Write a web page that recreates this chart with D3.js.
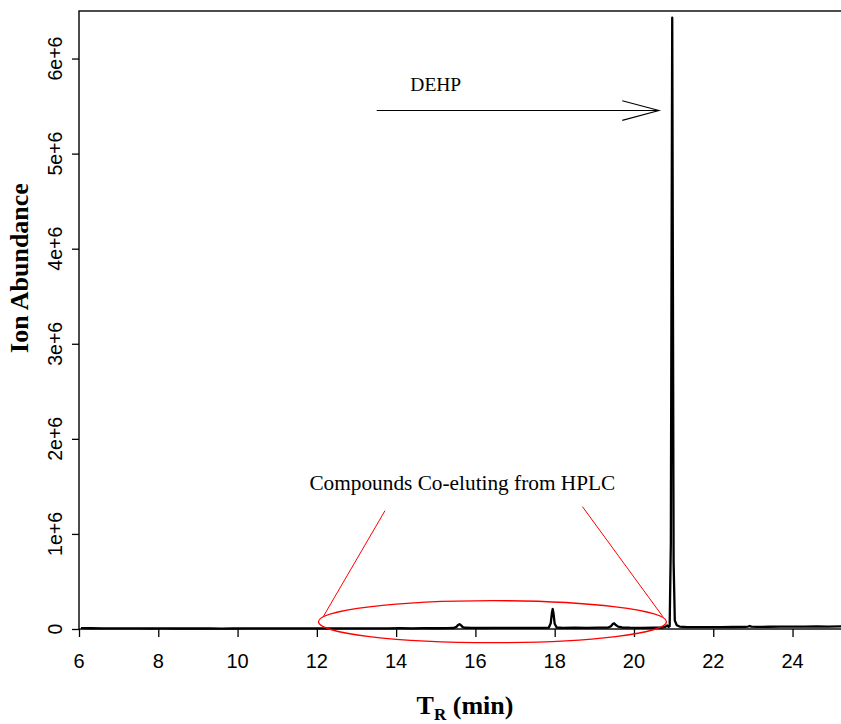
<!DOCTYPE html>
<html>
<head>
<meta charset="utf-8">
<script src="https://cdn.jsdelivr.net/npm/d3@7"></script>
<style>
  body { margin: 0; background: #ffffff; }
  svg { display: block; }
</style>
</head>
<body>
<svg id="chart" width="841" height="724"></svg>
<script>
// Retention time (min) of each scan point
const rtMin = [
  6.05, 6.3, 6.6, 6.9, 7.2, 7.5, 7.8, 8.1, 8.4, 8.7,
  9.0, 9.3, 9.6, 9.9, 10.2, 10.5, 10.8, 11.1, 11.4, 11.7,
  12.0, 12.3, 12.6, 12.9, 13.2, 13.5, 13.8, 14.1, 14.4, 14.7,
  15.0, 15.3, 15.45, 15.52, 15.56, 15.6, 15.64, 15.68, 15.75, 15.9,
  16.2, 16.5, 16.8, 17.1, 17.4, 17.7, 17.85, 17.9, 17.93, 17.95,
  17.97, 18.0, 18.05, 18.2, 18.5, 18.8, 19.1, 19.35, 19.42, 19.47,
  19.5, 19.54, 19.6, 19.7, 19.9, 20.2, 20.5, 20.7, 20.8, 20.84,
  20.87, 20.9, 20.93, 20.95, 20.965, 20.98, 21.0, 21.03, 21.08, 21.15,
  21.3, 21.6, 21.9, 22.2, 22.5, 22.8, 22.88, 22.92, 22.96, 23.1,
  23.4, 23.7, 24.0, 24.3, 24.6, 24.9, 25.2, 25.5
];

// Total ion abundance at each retention time
const abundance = [
  9000, 8000, 7500, 6500, 6000, 5800, 5500, 5600, 5300, 5200,
  5400, 5100, 5000, 5300, 6200, 5600, 6400, 5900, 6800, 6100,
  6500, 7000, 6600, 7200, 6900, 7600, 7100, 8200, 7500, 8600,
  8100, 9200, 10500, 22000, 42000, 50000, 38000, 20000, 13000, 11000,
  10500, 11800, 10900, 12200, 11400, 12800, 14000, 60000, 170000, 210000,
  165000, 55000, 16000, 12500, 13400, 12300, 13800, 15000, 30000, 55000,
  60000, 42000, 25000, 16000, 13500, 12600, 13200, 15000, 25000, 38000,
  22000, 30000, 900000, 4200000, 6430000, 4000000, 700000, 90000, 40000, 26000,
  21000, 19500, 20500, 19800, 21000, 22500, 26000, 32000, 25000, 22500,
  23500, 24800, 24000, 25500, 26500, 26000, 27500, 28000
];

const xTickValues = [6, 8, 10, 12, 14, 16, 18, 20, 22, 24];
const xTickLabels = ["6", "8", "10", "12", "14", "16", "18", "20", "22", "24"];
const yTickValues = [0, 1e6, 2e6, 3e6, 4e6, 5e6, 6e6];
const yTickLabels = ["0", "1e+6", "2e+6", "3e+6", "4e+6", "5e+6", "6e+6"];

// Plot region (the right edge runs past the window)
const plot = { left: 79, top: 11, right: 852, bottom: 629 };

const x = d3.scaleLinear().domain([6, 25.5]).range([plot.left, plot.right]);
const y = d3.scaleLinear().domain([0, 6.5e6]).range([plot.bottom, plot.top]);

const svg = d3.select("#chart");
const sans = "'Liberation Sans', Arial, sans-serif";
const serif = "'Liberation Serif', 'Times New Roman', serif";

svg.append("rect").attr("width", 841).attr("height", 724).attr("fill", "#ffffff");

svg.append("defs").append("clipPath").attr("id", "plotClip")
  .append("rect")
  .attr("x", plot.left).attr("y", plot.top - 2)
  .attr("width", plot.right - plot.left).attr("height", plot.bottom - plot.top + 4);

// Chromatogram trace
const points = rtMin.map((t, i) => [t, abundance[i]]);
const line = d3.line().x(d => x(d[0])).y(d => y(d[1]));
svg.append("path")
  .datum(points)
  .attr("clip-path", "url(#plotClip)")
  .attr("fill", "none")
  .attr("stroke", "#000")
  .attr("stroke-width", 2.3)
  .attr("stroke-linejoin", "round")
  .attr("d", line);

// Frame around plot region
svg.append("rect")
  .attr("x", plot.left).attr("y", plot.top)
  .attr("width", plot.right - plot.left).attr("height", plot.bottom - plot.top)
  .attr("fill", "none").attr("stroke", "#000").attr("stroke-width", 1.4);

// X axis: tick marks from d3.axisBottom, labels placed below them
const xAxis = d3.axisBottom(x).tickValues(xTickValues).tickSize(8).tickFormat("");
const gx = svg.append("g").attr("transform", `translate(0,${plot.bottom})`).call(xAxis);
gx.select(".domain").remove();
gx.selectAll(".tick line").attr("stroke", "#000").attr("stroke-width", 1.3);
gx.selectAll(".tick text").remove();

svg.append("g").selectAll("text").data(xTickValues).join("text")
  .attr("x", d => x(d))
  .attr("y", plot.bottom + 39)
  .attr("text-anchor", "middle")
  .attr("font-family", sans).attr("font-size", 20).attr("fill", "#000")
  .text((d, i) => xTickLabels[i]);

// Y axis (labels rotated, reading bottom to top)
const yAxis = d3.axisLeft(y).tickValues(yTickValues).tickSize(7).tickFormat("");
const gy = svg.append("g").attr("transform", `translate(${plot.left},0)`).call(yAxis);
gy.select(".domain").remove();
gy.selectAll(".tick line").attr("stroke", "#000").attr("stroke-width", 1.3);
gy.selectAll(".tick text").remove();

svg.append("g").selectAll("text").data(yTickValues).join("text")
  .attr("transform", d => `translate(${plot.left - 17},${y(d)}) rotate(-90)`)
  .attr("text-anchor", "middle")
  .attr("font-family", sans).attr("font-size", 19.5).attr("fill", "#000")
  .text((d, i) => yTickLabels[i]);

// Axis titles
svg.append("text")
  .attr("transform", `translate(28,${(plot.top + plot.bottom) / 2 - 52}) rotate(-90)`)
  .attr("text-anchor", "middle")
  .attr("font-family", serif).attr("font-weight", "bold").attr("font-size", 26)
  .text("Ion Abundance");

const xTitle = svg.append("text")
  .attr("x", 465).attr("y", 714)
  .attr("text-anchor", "middle")
  .attr("font-family", serif).attr("font-weight", "bold").attr("font-size", 26);
xTitle.append("tspan").text("T");
xTitle.append("tspan").attr("font-size", 17).attr("dy", 6).text("R");
xTitle.append("tspan").attr("dy", -6).text(" (min)");

// DEHP annotation: label and arrow pointing at the main peak
const dehpArrow = { from: [13.51, 5.453e6], to: [20.63, 5.453e6] };
svg.append("text")
  .attr("x", x(15)).attr("y", y(5.66e6))
  .attr("text-anchor", "middle")
  .attr("font-family", serif).attr("font-size", 19.5)
  .text("DEHP");

const ax0 = x(dehpArrow.from[0]), ay0 = y(dehpArrow.from[1]);
const ax1 = x(dehpArrow.to[0]), ay1 = y(dehpArrow.to[1]);
const headLen = 38, headAngle = 15 * Math.PI / 180;
const ang = Math.atan2(ay1 - ay0, ax1 - ax0);
const arrow = svg.append("g").attr("stroke", "#000").attr("stroke-width", 1.1).attr("fill", "none");
arrow.append("line").attr("x1", ax0).attr("y1", ay0).attr("x2", ax1).attr("y2", ay1);
arrow.append("path").attr("d",
  `M${ax1 - headLen * Math.cos(ang - headAngle)},${ay1 - headLen * Math.sin(ang - headAngle)}` +
  `L${ax1},${ay1}` +
  `L${ax1 - headLen * Math.cos(ang + headAngle)},${ay1 - headLen * Math.sin(ang + headAngle)}`);

// Co-eluting compounds annotation: label, leader lines and ellipse
svg.append("text")
  .attr("x", x(15.67)).attr("y", y(1.46e6))
  .attr("text-anchor", "middle")
  .attr("font-family", serif).attr("font-size", 21.3)
  .text("Compounds Co-eluting from HPLC");

const leaders = [
  [[13.72, 1.245e6], [12.16, 0.129e6]],
  [[18.70, 1.287e6], [20.73, 0.129e6]]
];
svg.append("g").selectAll("line").data(leaders).join("line")
  .attr("x1", d => x(d[0][0])).attr("y1", d => y(d[0][1]))
  .attr("x2", d => x(d[1][0])).attr("y2", d => y(d[1][1]))
  .attr("stroke", "#ff0000").attr("stroke-width", 1);

const ring = { cx: 16.43, cy: 0.077e6, rx: 4.39, ry: 0.221e6 };
svg.append("ellipse")
  .attr("cx", x(ring.cx)).attr("cy", y(ring.cy))
  .attr("rx", x(ring.cx + ring.rx) - x(ring.cx))
  .attr("ry", y(0) - y(ring.ry))
  .attr("fill", "none").attr("stroke", "#ff0000").attr("stroke-width", 1.3);
</script>
</body>
</html>
